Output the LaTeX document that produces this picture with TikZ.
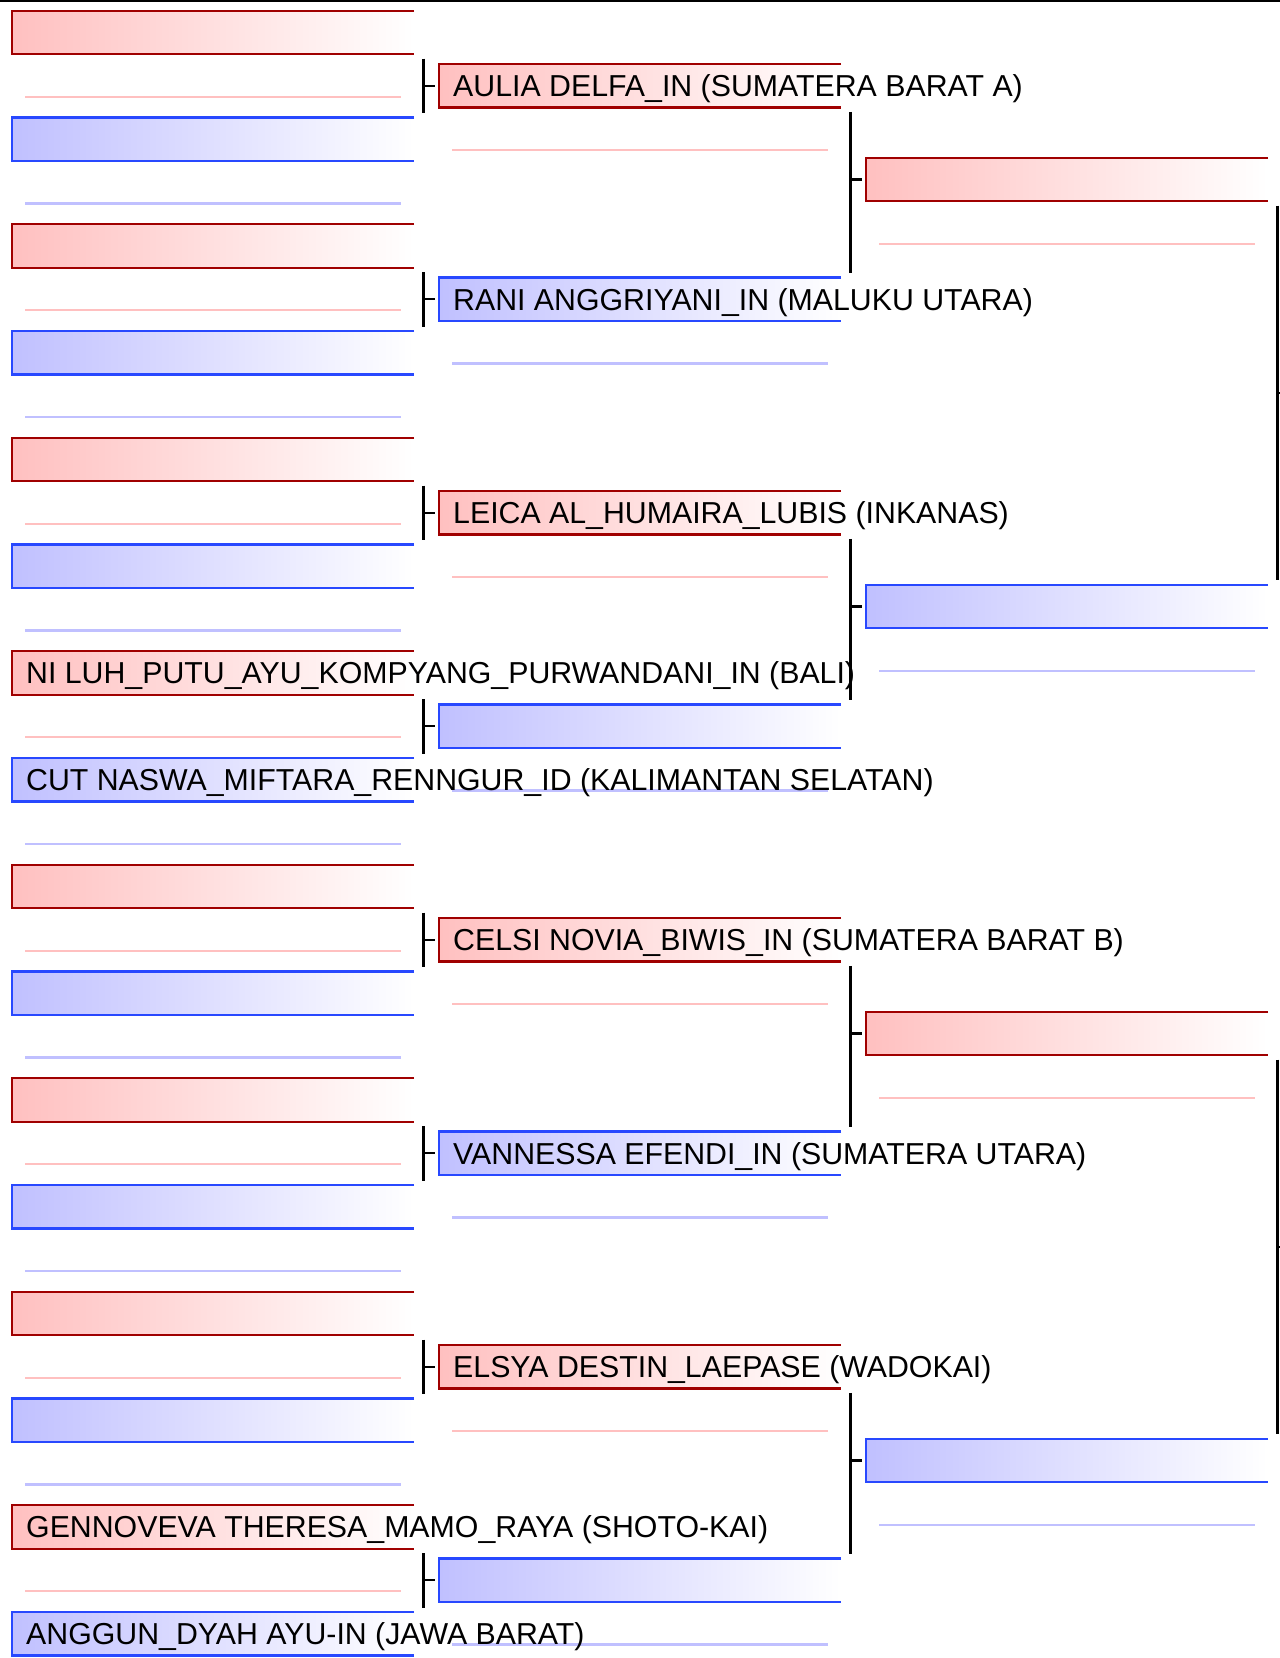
\documentclass[tikz,border=0pt]{standalone}
\usepackage{fontspec}
\setmainfont{Liberation Sans}
\usetikzlibrary{calc}
\definecolor{rbd}{RGB}{160,0,0}
\definecolor{rfill}{RGB}{255,192,192}
\definecolor{bbd}{RGB}{40,72,255}
\definecolor{bfill}{RGB}{192,192,255}
\begin{document}
\begin{tikzpicture}[x=1pt,y=-1pt,
  slot/.style={minimum width=402pt, minimum height=43.5pt, inner sep=0pt, outer sep=0pt, anchor=north west},
  redslot/.style={slot, left color=rfill, right color=white},
  blueslot/.style={slot, left color=bfill, right color=white},
  rededge/.style={draw=rbd, line width=2.4pt},
  blueedge/.style={draw=bbd, line width=2.4pt},
  redunder/.style={draw=rfill, line width=2.2pt},
  blueunder/.style={draw=bfill, line width=2.2pt},
  bracket/.style={draw=black, line width=2.4pt},
  entrant/.style={anchor=base west, inner sep=0pt, font=\fontsize{30.3}{36}\selectfont}
]
\useasboundingbox (0,0) rectangle (1280,1658);
\draw[line width=2.5pt] (0,1) -- (1280,1);

\foreach \col/\n/\ya/\dy in {0/15/10.7/106.75,1/7/64/213.5,2/3/157.7/427}{
  \foreach \idx in {0,...,\n}{
    \pgfmathsetmacro\yy{\ya+\dy*\idx}
    \pgfmathsetmacro\xx{12+427*\col}
    \pgfmathtruncatemacro\oddq{mod(\idx,2)}
    \ifnum\oddq=0
      \node[redslot] (c\col e\idx) at (\xx,\yy) {};
      \draw[rededge] (c\col e\idx.north east) -- (c\col e\idx.north west) -- (c\col e\idx.south west) -- (c\col e\idx.south east);
      \draw[redunder] ($(c\col e\idx.south west)+(13,42.5)$) -- ($(c\col e\idx.south east)+(-13,42.5)$);
    \else
      \node[blueslot] (c\col e\idx) at (\xx,\yy) {};
      \draw[blueedge] (c\col e\idx.north east) -- (c\col e\idx.north west) -- (c\col e\idx.south west) -- (c\col e\idx.south east);
      \draw[blueunder] ($(c\col e\idx.south west)+(13,42.5)$) -- ($(c\col e\idx.south east)+(-13,42.5)$);
    \fi
  }
}

% brackets between columns
\foreach \col/\n in {0/7,1/3}{
  \foreach \m in {0,...,\n}{
    \pgfmathtruncatemacro\ua{2*\m}
    \pgfmathtruncatemacro\ub{2*\m+1}
    \pgfmathtruncatemacro\nx{\col+1}
    \draw[bracket] ($(c\col e\ua.south east)+(9.3,4.3)$) -- ($(c\col e\ub.north east)+(9.3,-4.3)$);
    \draw[bracket] ($(c\nx e\m.west)+(-15.7,0)$) -- ($(c\nx e\m.west)+(-4,0)$);
  }
}
\foreach \m in {0,1}{
  \pgfmathtruncatemacro\ua{2*\m}
  \pgfmathtruncatemacro\ub{2*\m+1}
  \coordinate (mid\m) at ($(c2e\ua.center)!0.5!(c2e\ub.center)$);
  \draw[bracket] ($(c2e\ua.south east)+(9.3,4.3)$) -- ($(c2e\ub.north east)+(9.3,-4.3)$);
  \draw[bracket] ($(c2e\ua.east |- mid\m)+(9.3,0)$) -- ($(c2e\ua.east |- mid\m)+(21.3,0)$);
}

% names
\node[entrant] (n06) at ($(c0e6.west)+(14,10.8)$) {NI LUH\_PUTU\_AYU\_KOMPYANG\_PURWANDANI\_IN (BALI)};
\node[entrant] (n07) at ($(c0e7.west)+(14,10.8)$) {CUT NASWA\_MIFTARA\_RENNGUR\_ID (KALIMANTAN SELATAN)};
\node[entrant] (n14) at ($(c0e14.west)+(14,10.8)$) {GENNOVEVA THERESA\_MAMO\_RAYA (SHOTO-KAI)};
\node[entrant] (n15) at ($(c0e15.west)+(14,10.8)$) {ANGGUN\_DYAH AYU-IN (JAWA BARAT)};
\node[entrant] (m0) at ($(c1e0.west)+(14,10.8)$) {AULIA DELFA\_IN (SUMATERA BARAT A)};
\node[entrant] (m1) at ($(c1e1.west)+(14,10.8)$) {RANI ANGGRIYANI\_IN (MALUKU UTARA)};
\node[entrant] (m2) at ($(c1e2.west)+(14,10.8)$) {LEICA AL\_HUMAIRA\_LUBIS (INKANAS)};
\node[entrant] (m4) at ($(c1e4.west)+(14,10.8)$) {CELSI NOVIA\_BIWIS\_IN (SUMATERA BARAT B)};
\node[entrant] (m5) at ($(c1e5.west)+(14,10.8)$) {VANNESSA EFENDI\_IN (SUMATERA UTARA)};
\node[entrant] (m6) at ($(c1e6.west)+(14,10.8)$) {ELSYA DESTIN\_LAEPASE (WADOKAI)};
\end{tikzpicture}
\end{document}
